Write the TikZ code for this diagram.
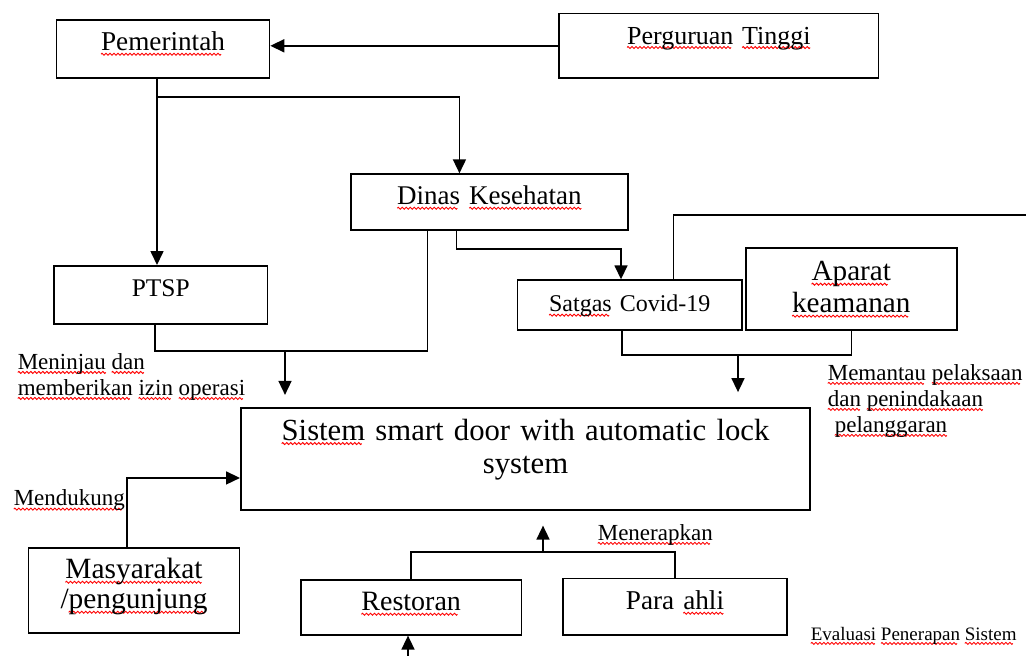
\documentclass[tikz,border=0pt]{standalone}
\usepackage{fontspec}
\setmainfont{Liberation Serif}
\usetikzlibrary{arrows.meta}
\newsavebox\wavebox
\newsavebox\sqbox
\sbox\wavebox{\tikz{\useasboundingbox (0,-0.5pt) rectangle (2pt,0.5pt);
    \draw[red, line width=0.45pt] (0,0) sin (0.5pt,0.5pt) cos (1pt,0) sin (1.5pt,-0.5pt) cos (2pt,0);}}
\newcommand{\sq}[1]{\leavevmode\sbox\sqbox{#1}\rlap{\raisebox{-2.2pt}{\hbox to \wd\sqbox{\leaders\copy\wavebox\hfill}}}\usebox\sqbox}
\begin{document}
\begin{tikzpicture}[x=0.5pt, y=-0.5pt, line width=0.8pt,
    box/.style={draw, rectangle, inner sep=0pt, anchor=north west, align=center},
    lbl/.style={inner sep=0pt, anchor=base west, align=left, font=\fontsize{11.5}{13}\selectfont},
    arr/.style={-{Triangle[length=7pt, width=6.5pt]}}]

        \useasboundingbox (0,0) rectangle (1026,655);

        % Pemerintah
        \node[box, text width=106.5pt, text height=15.5pt, text depth=13.65pt,
            font=\fontsize{13.6}{16}\selectfont] (pem) at (55.7,19) {\sq{Pemerintah}};

        % Perguruan Tinggi
        \node[box, text width=159.7pt, text height=15.3pt, text depth=17pt,
            font=\fontsize{13}{15}\selectfont] (pt) at (558.3,12.7) {\sq{Perguruan} \sq{Tinggi}};

        % Dinas Kesehatan
        \node[box, text width=138.65pt, text height=15.35pt, text depth=12.65pt,
            font=\fontsize{13.5}{15}\selectfont] (dinas) at (350,173.3) {\sq{Dinas} \sq{Kesehatan}};

        % PTSP
        \node[box, text width=106.7pt, text height=15.5pt, text depth=13.65pt,
            font=\fontsize{12.7}{15}\selectfont] (ptsp) at (53.3,265) {PTSP};

        % Satgas
        \node[box, text width=112.3pt, text height=15.85pt, text depth=9pt,
            font=\fontsize{12}{14}\selectfont] (satgas) at (516.7,279.3) {\sq{Satgas} Covid-19};

        % Aparat
        \node[box, text width=105.5pt, text height=16.35pt, text depth=24.5pt,
            font=\fontsize{14.6}{16}\selectfont] (aparat) at (745,247.3) {\sq{Aparat}\\\sq{keamanan}};

        % Sistem
        \node[box, text width=284.7pt, text height=16pt, text depth=34.85pt,
            font=\fontsize{15.35}{16.7}\selectfont] (sys) at (240,407.3)
            {\sq{Sistem} smart door with automatic lock\\system};

        % Masyarakat
        \node[box, text width=105.5pt, text height=15.35pt, text depth=27.15pt,
            font=\fontsize{14.7}{15}\selectfont] (masy) at (27.7,547.3) {\sq{Masyarakat}\\/\sq{pengunjung}};

        % Restoran
        \node[box, text width=110.4pt, text height=15.35pt, text depth=12pt,
            font=\fontsize{14}{15}\selectfont] (resto) at (300,579.3) {\sq{Restoran}};

        % Para ahli
        \node[box, text width=111.8pt, text height=15.7pt, text depth=12.5pt,
            font=\fontsize{13.6}{15}\selectfont] (para) at (562.4,577.6) {Para \sq{ahli}};

        % Keterangan (base = baris terakhir)
        \node[lbl] (lmeninjau) at (17,395) {\sq{Meninjau} \sq{dan}\\\sq{memberikan} \sq{izin} \sq{operasi}};
        \node[lbl] (lmendukung) at (13,505.7) {\sq{Mendukung}};
        \node[lbl] (lmemantau) at (827,432) {\sq{Memantau} \sq{pelaksaan}\\\sq{dan} \sq{penindakaan}\\\hspace*{3.5pt}\sq{pelanggaran}};
        \node[lbl] (lmenerapkan) at (597,540) {\sq{Menerapkan}};
        \node[lbl, font=\fontsize{9.5}{11}\selectfont] (levaluasi) at (810,640) {\sq{Evaluasi} \sq{Penerapan} \sq{Sistem}};

        % Titik bantu
        \coordinate (j1) at (156,97);
        \coordinate (j2) at (621,249);
        \coordinate (m1) at (285,351);
        \coordinate (m2) at (738,355);
        \coordinate (m3) at (543,552);
        \coordinate (edge) at (1026,215);
        \coordinate (bot) at (408,665);

        % Perguruan Tinggi ke Pemerintah
        \draw[arr] (pt.west) -- (pt.west -| pem.east);

        % Pemerintah ke PTSP dan Dinas
        \draw[arr] ([xshift=-3pt]pem.south) -- ([xshift=-3pt]pem.south |- ptsp.north);
        \draw[arr] (j1) -| ([xshift=-15pt]dinas.north);

        % PTSP dan Dinas ke Sistem
        \draw ([xshift=-3pt]ptsp.south) |- (m1) -| ([xshift=-31pt]dinas.south);
        \draw[arr, shorten >=6.2pt] (m1) -- (m1 |- sys.north);

        % Dinas ke Satgas
        \draw[arr] ([xshift=-16.4pt]dinas.south) |- (j2) -- (j2 |- satgas.north);
        \draw ([xshift=21.8pt]satgas.north) |- (edge);

        % Satgas dan Aparat ke Sistem
        \draw ([xshift=-4pt]satgas.south) |- (m2) -| (aparat.south);
        \draw[arr, shorten >=7.6pt] (m2) -- (m2 |- sys.north);

        % Masyarakat ke Sistem
        \draw[arr] ([xshift=-3.6pt]masy.north) |- ([yshift=-9.5pt]sys.west);

        % Restoran dan Para ahli ke Sistem
        \draw (resto.north) |- (m3) -| (para.north);
        \draw[arr, shorten >=7.5pt] (m3) -- (m3 |- sys.south);
        \draw[arr] (bot) -- (bot |- resto.south);

    \end{tikzpicture}
\end{document}
